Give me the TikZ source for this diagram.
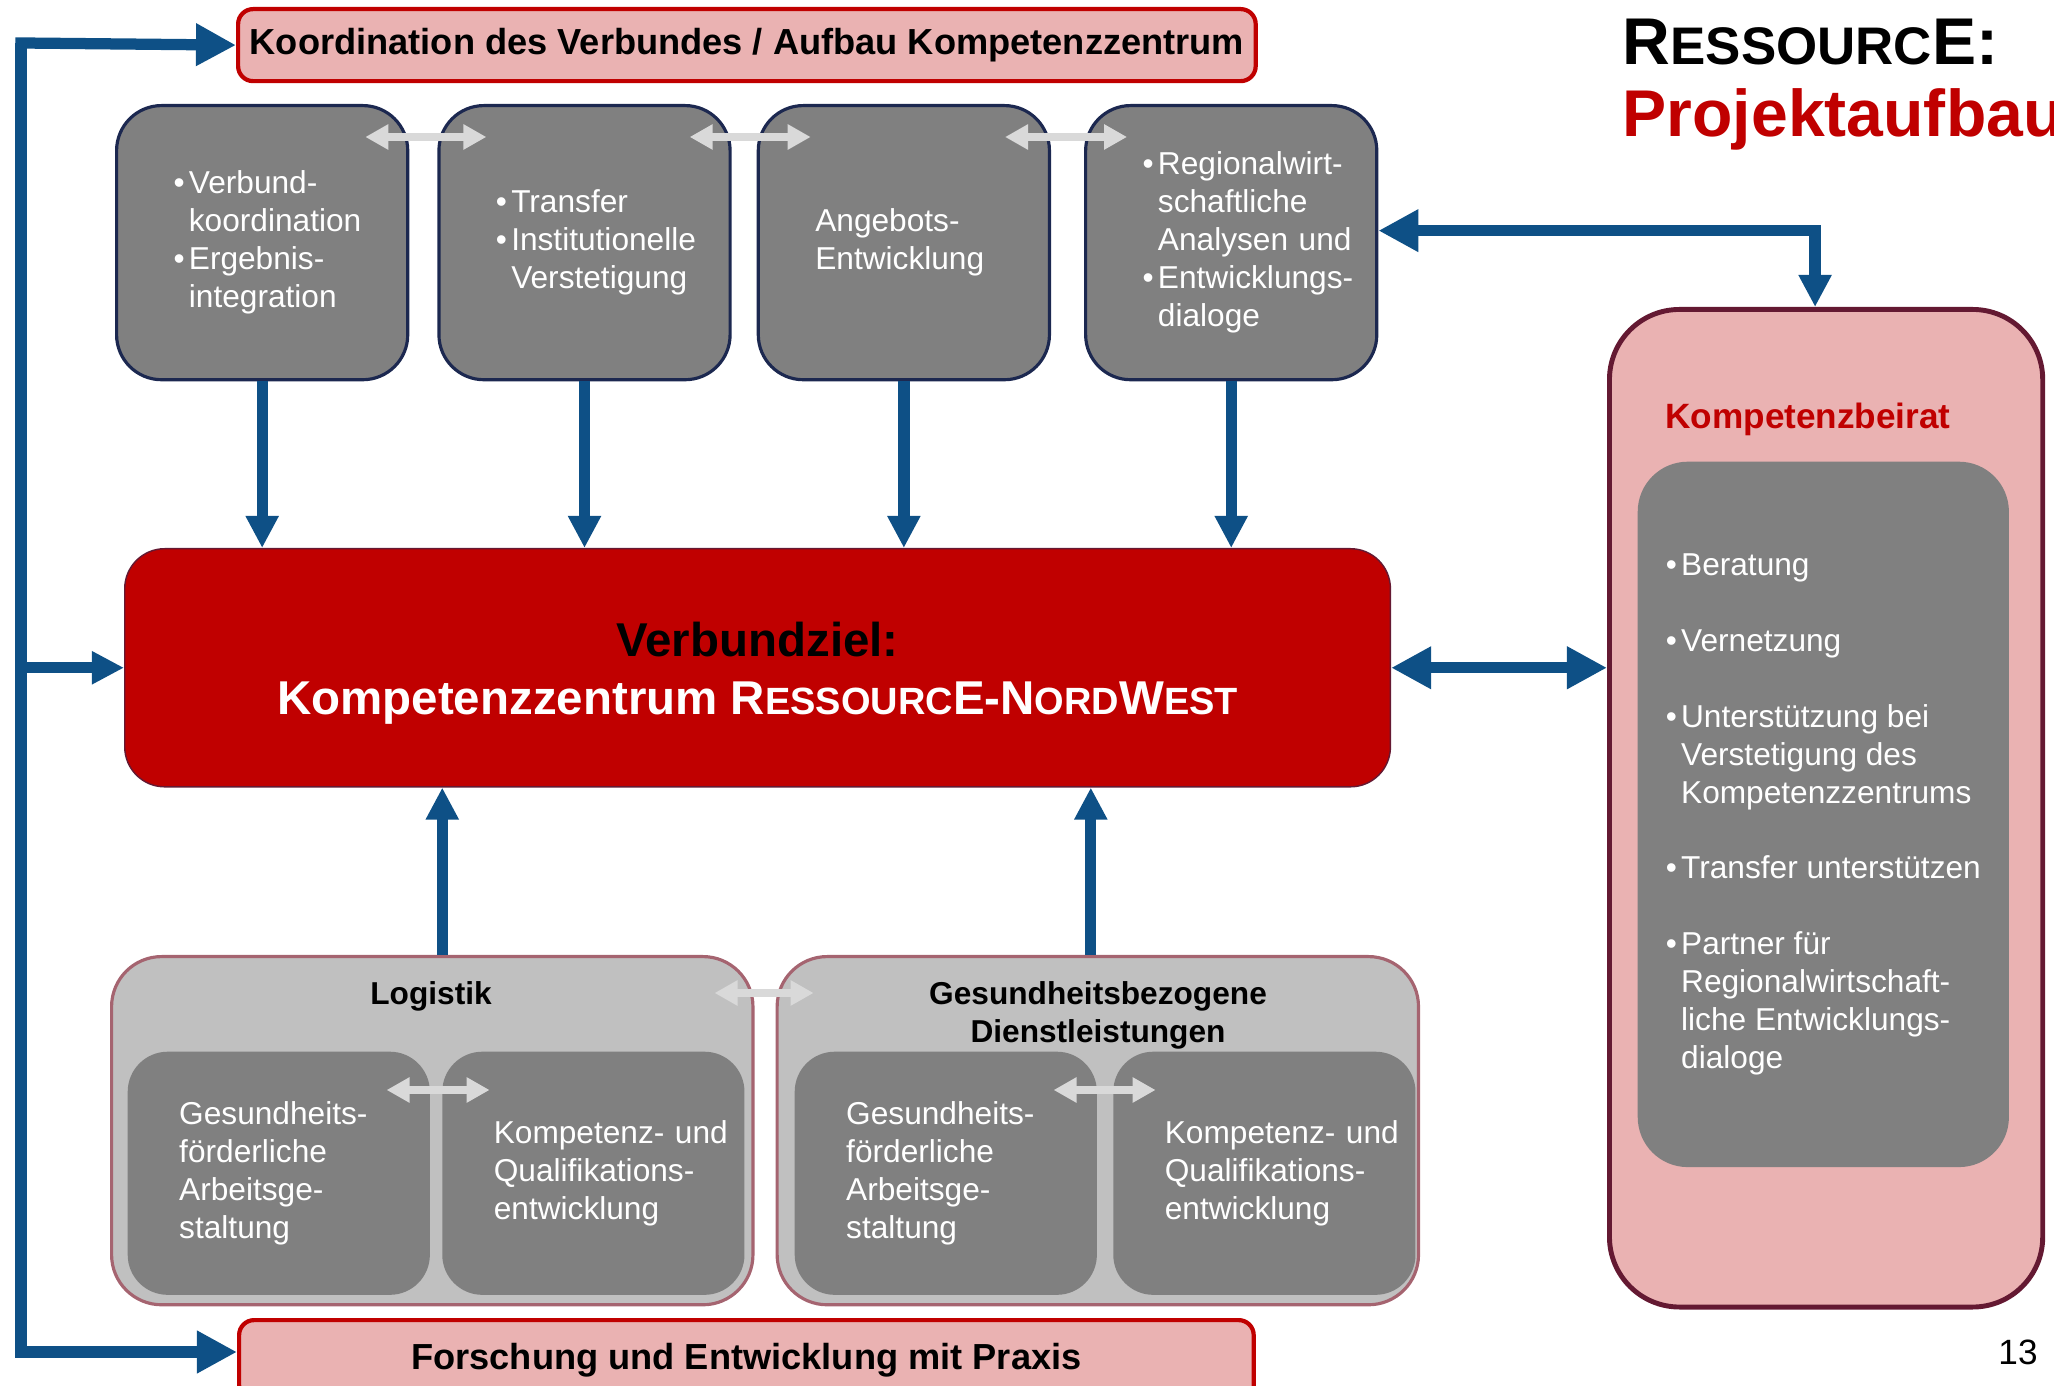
\documentclass[tikz,border=0pt]{standalone}
\usepackage{fontspec}
\setmainfont{Liberation Sans}
\usepackage{graphicx}
\usetikzlibrary{positioning, arrows.meta}
\definecolor{blau}{RGB}{14,80,134}
\definecolor{rot}{RGB}{192,0,0}
\definecolor{rosa}{RGB}{234,178,178}
\definecolor{dgrau}{RGB}{128,128,128}
\definecolor{hgrau}{RGB}{192,192,192}
\definecolor{pgrau}{RGB}{217,217,217}
\definecolor{navy}{RGB}{28,40,80}
\definecolor{wein}{RGB}{100,25,50}
\definecolor{mauve}{RGB}{165,100,112}
\newcommand{\fn}{\fontsize{9}{10.8}\selectfont}
\newcommand{\fb}{\fontsize{10.3}{12.4}\selectfont\bfseries}
\newcommand{\kap}[1]{\scalebox{0.8}{#1}}
\newcommand{\bu}{\textbullet}
\newcommand{\liste}[1]{\begin{tabular}{@{}l@{\hspace{1.2pt}}l@{}}#1\end{tabular}}
\tikzset{gs/.tip={Triangle[length=4mm,width=4mm]},
kl/.tip={Triangle[length=3.2mm,width=3.1mm]},
hg/.tip={Triangle[length=2.3mm,width=2.4mm]},
pfeil/.style={draw=blau, line width=3.2pt},
hell/.style={draw=pgrau, line width=2.3pt, arrows={hg-hg}},
balken/.style={draw=rot, line width=1.2pt, fill=rosa, rounded corners=1.5mm,
  anchor=north west, font=\fb, minimum height=0.72cm},
box/.style={draw=navy, line width=0.9pt, fill=dgrau, rounded corners=4.5mm,
  text=white, font=\fn, align=left, inner sep=0pt, text width=1.77cm,
  minimum width=2.91cm, minimum height=2.74cm},
feld/.style={fill=dgrau, rounded corners=4mm, text=white, font=\fn,
  align=left, inner sep=0pt, text width=1.99cm,
  minimum width=3.02cm, minimum height=2.43cm},
bereich/.style={draw=mauve, line width=0.9pt, fill=hgrau, rounded corners=5mm,
  anchor=north west, minimum width=6.41cm, minimum height=3.48cm},
titel/.style={anchor=base west, inner sep=0pt,
  font=\fontsize{18.8}{18.8}\selectfont\bfseries}
}

\begin{document}
\begin{tikzpicture}[x=0.01cm, y=-0.01cm]
\useasboundingbox (0,0) rectangle (2054,1386);
% Kopf
\node[balken, minimum width=10.15cm] (KO) at (236,7)
  {Koordination des Verbundes / Aufbau Kompetenzzentrum};
\node[titel] (T) at (1622,65) {R\kap{ESSOURC}E:};
\node[titel, text=rot] (T2) at (1622,137) {Projektaufbau};
% Teilprojekte
\node[box, anchor=north west] (V1) at (115,104)
  {\liste{\bu & Verbund-\\ & koordination\\ \bu & Ergebnis-\\ & integration}};
\node[box, right=0.28cm of V1] (V2)
  {\liste{\bu & Transfer\\ \bu & Institutionelle\\ & Verstetigung}};
\node[box, right=0.25cm of V2] (V3) {Angebots-\\Entwicklung};
\node[box, right=0.33cm of V3] (V4)
  {\liste{\bu & Regionalwirt-\\ & schaftliche\\ & Analysen und\\
   \bu & Entwicklungs-\\ & dialoge}};
% Ziel
\node[fill=rot, draw=wein, rounded corners=4mm, anchor=north west,
  minimum width=12.65cm, minimum height=2.38cm, align=center, text=white,
  font=\fontsize{13.5}{16.5}\selectfont\bfseries] (Z) at (124,548)
  {\rule{0pt}{13pt}{\color{black}Verbundziel:}\\
   Kompetenzzentrum R\kap{ESSOURC}E-N\kap{ORD}W\kap{EST}};
% Beirat
\node[draw=wein, line width=1.4pt, fill=rosa, rounded corners=7mm,
  anchor=north west, minimum width=4.33cm, minimum height=9.97cm] (KB) at (1607,307) {};
\node[text=rot, font=\fontsize{10}{12}\selectfont\bfseries] (KBT) at (1808,419)
  {Kompetenzbeirat};
\node[feld, text width=, rounded corners=5mm, anchor=north west, minimum width=3.71cm,
  minimum height=7.05cm] (KBI) at (1637,461)
  {\liste{\bu & Beratung\\[10.8pt] \bu & Vernetzung\\[10.8pt]
   \bu & Unterstützung bei\\ & Verstetigung des\\ & Kompetenzzentrums\\[10.8pt]
   \bu & Transfer unterstützen\\[10.8pt]
   \bu & Partner für\\ & Regionalwirtschaft-\\ & liche Entwicklungs-\\ & dialoge}};
% Bereiche
\node[bereich] (L) at (110,955) {};
\node[bereich, right=0.21cm of L] (G) {};
\node[font=\fn\bfseries] (LT) at (431,996) {Logistik};
\node[font=\fn\bfseries, align=center] (GT) at (1098,1015)
  {Gesundheitsbezogene\\Dienstleistungen};
\node[feld, anchor=north west] (L1) at (127,1051)
  {Gesundheits-\\förderliche\\Arbeitsge-\\staltung};
\node[feld, right=0.11cm of L1] (L2)
  {\mbox{Kompetenz- und}\\\mbox{Qualifikations-}\\entwicklung};
\node[feld, anchor=north west] (G1) at (794,1051)
  {Gesundheits-\\förderliche\\Arbeitsge-\\staltung};
\node[feld, right=0.15cm of G1] (G2)
  {\mbox{Kompetenz- und}\\\mbox{Qualifikations-}\\entwicklung};
% Fuss
\node[balken, minimum width=10.14cm, minimum height=0.8cm] (F) at (237,1318)
  {Forschung und Entwicklung mit Praxis};
\node[font=\fontsize{10}{12}\selectfont] (N) at (2018,1352) {13};

% Verbindungen
\coordinate (lo) at (21,43);
\coordinate (lu) at (21,1352);
\coordinate (kb) at ([xshift=-0.11cm]KB.north);
\draw[pfeil, -gs] (lu) -- (lo) -- (KO.west);
\draw[pfeil, -gs] (lo) -- (lu) -- (lu -| F.west);
\draw[pfeil, -kl] (lo |- Z.west) -- (Z.west);
\foreach \v in {V1,V2,V3,V4}
  \draw[pfeil, -kl] (\v.south) -- (\v.south |- Z.north);
\draw[pfeil, -kl] ([xshift=0.1cm]L.north) -- ([xshift=0.1cm]L.north |- Z.south);
\draw[pfeil, -kl] ([xshift=-0.07cm]G.north) -- ([xshift=-0.07cm]G.north |- Z.south);
\draw[pfeil, gs-gs] (Z.east) -- (Z.east -| KB.west);
\draw[pfeil, gs-kl] ([yshift=0.12cm]V4.east) -- ([yshift=0.12cm]V4.east -| kb)
  -- (kb);
% graue Doppelpfeile
\draw[hell] ([shift={(-44,33)}]V1.north east) -- ([shift={(49,33)}]V2.north west);
\draw[hell] ([shift={(-42,33)}]V2.north east) -- ([shift={(54,33)}]V3.north west);
\draw[hell] ([shift={(-46,33)}]V3.north east) -- ([shift={(43,33)}]V4.north west);
\draw[hell] ([shift={(-40,38)}]L.north east) -- ([shift={(38,38)}]G.north west);
\draw[hell] ([shift={(-44,39)}]L1.north east) -- ([shift={(48,39)}]L2.north west);
\draw[hell] ([shift={(-44,39)}]G1.north east) -- ([shift={(43,39)}]G2.north west);
\end{tikzpicture}
\end{document}
